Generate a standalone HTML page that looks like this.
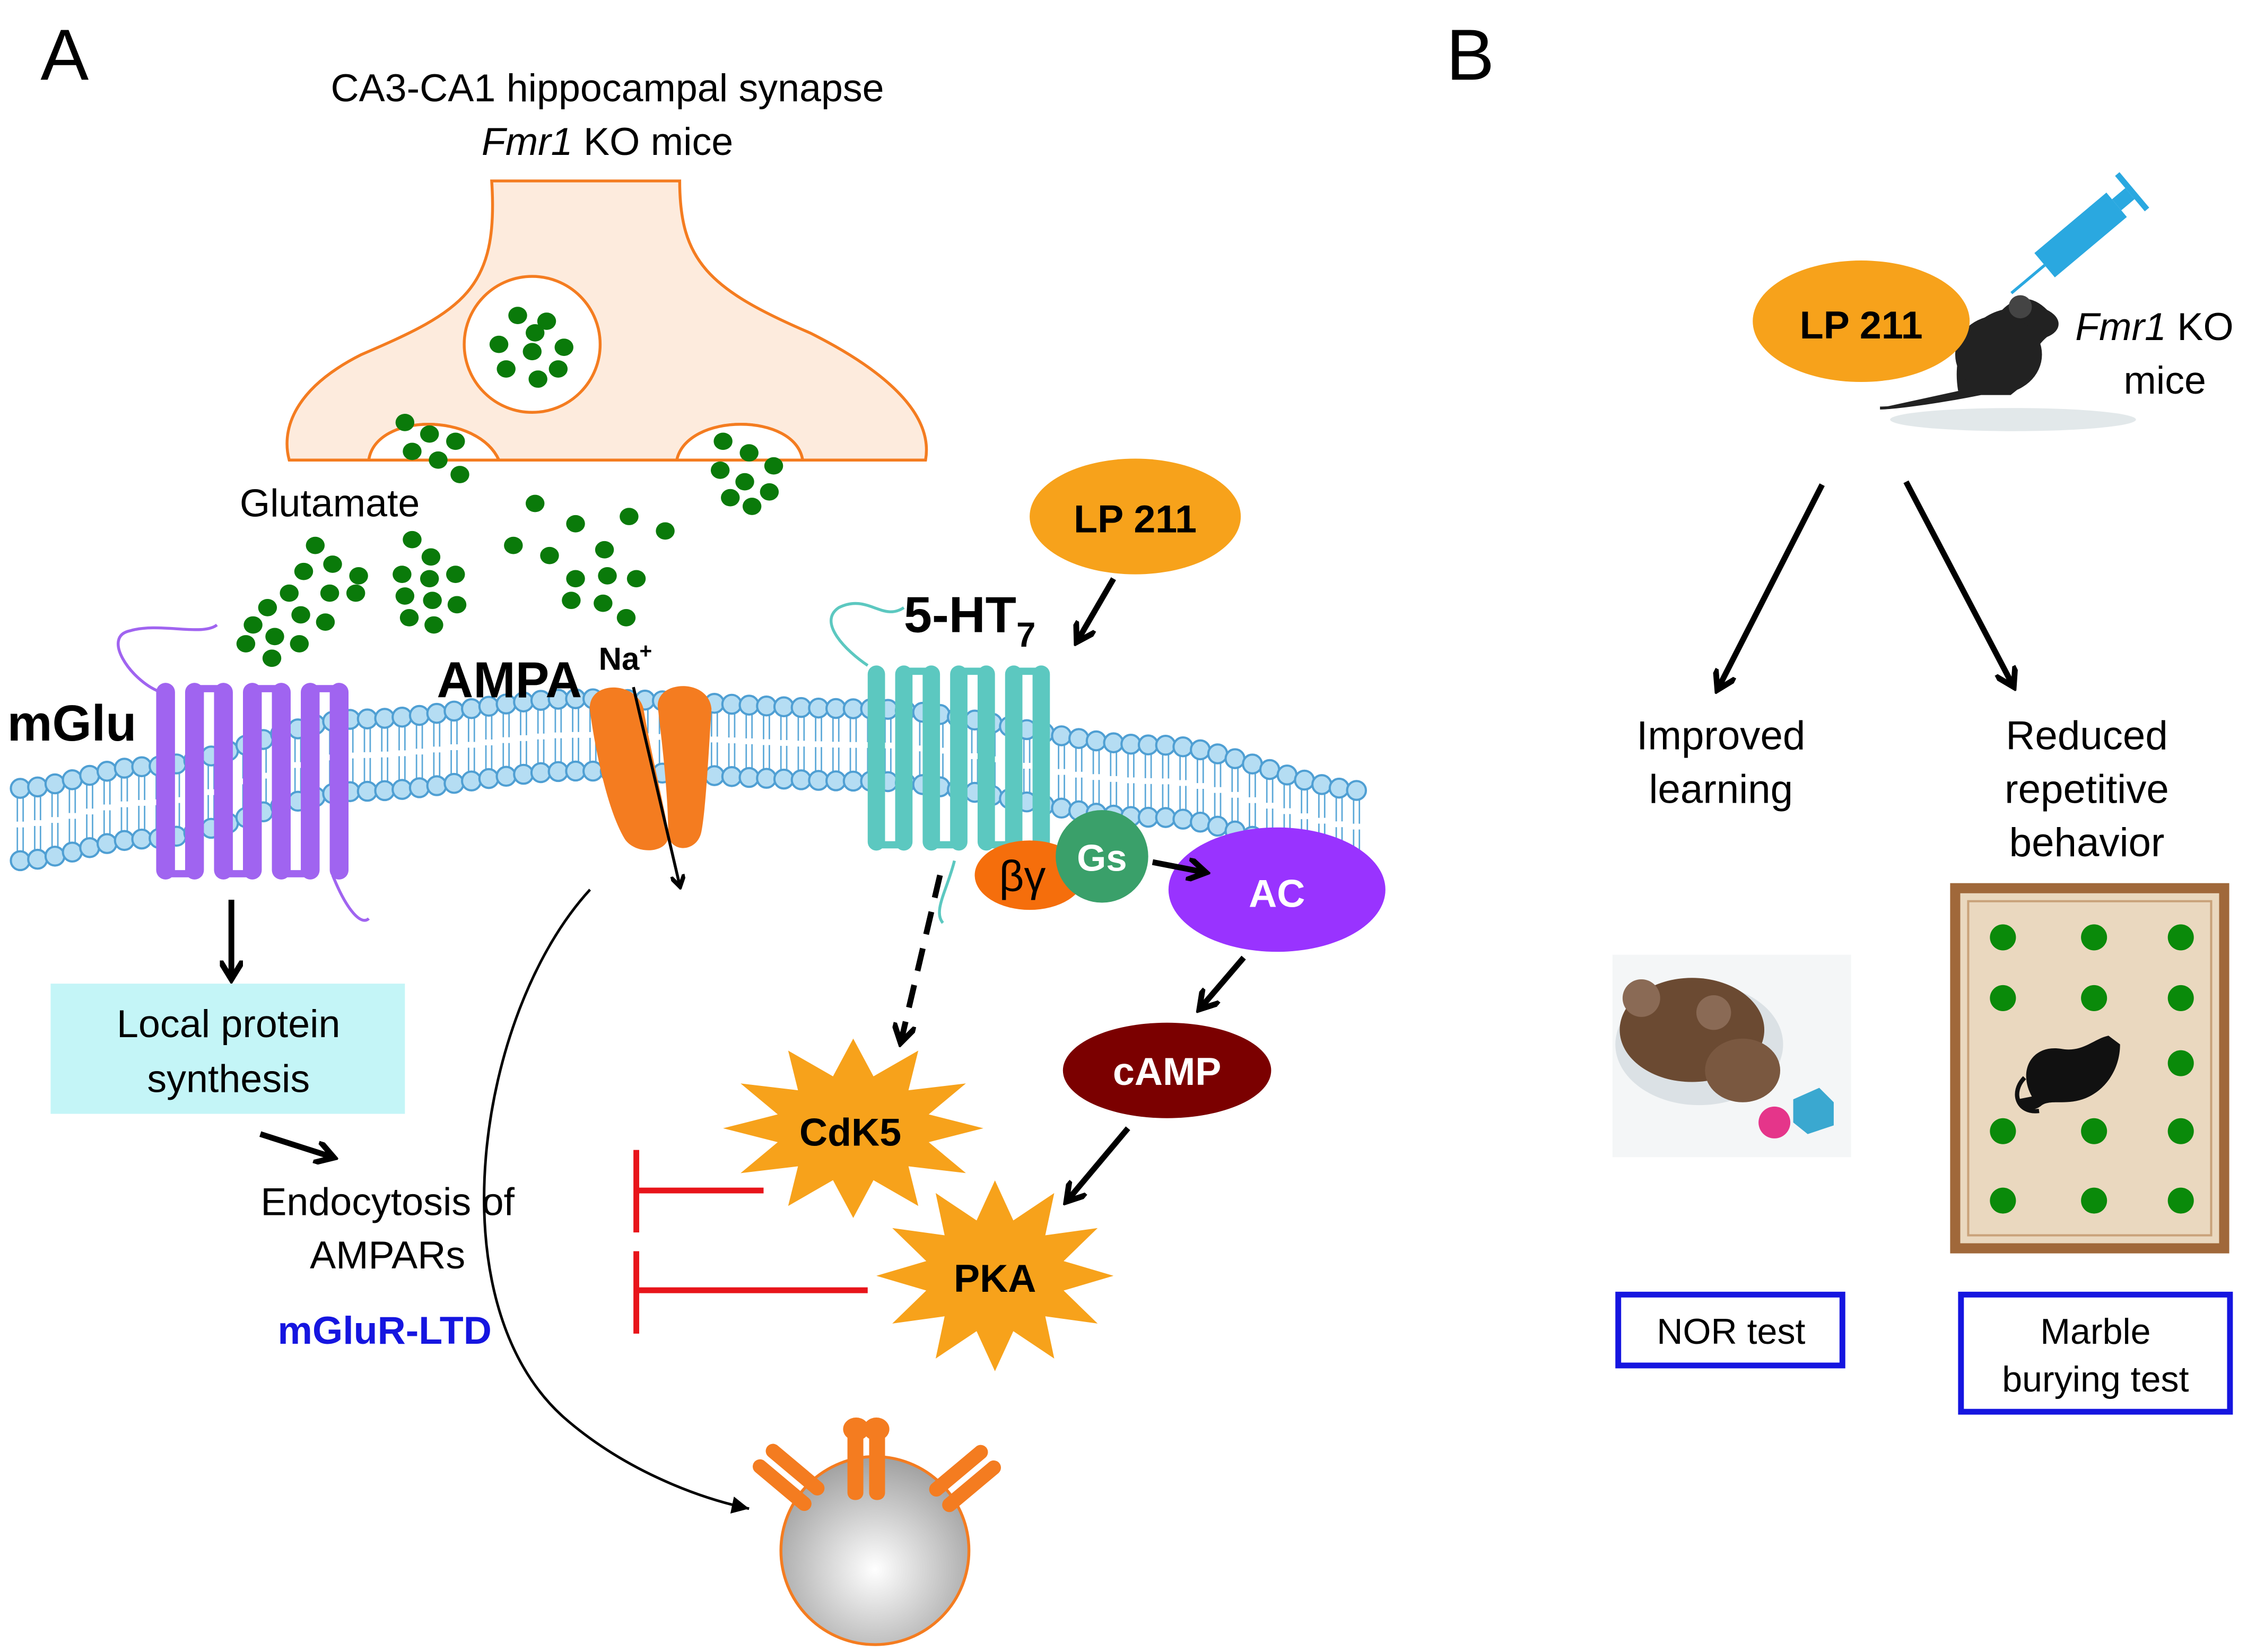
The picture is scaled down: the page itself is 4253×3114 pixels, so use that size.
<!DOCTYPE html>
<html><head><meta charset="utf-8"><style>
html,body{margin:0;padding:0;background:#fff;}
svg{display:block;}
text{font-family:"Liberation Sans",Arial,sans-serif;}
</style></head><body>
<svg id="s" xmlns="http://www.w3.org/2000/svg" width="4253" height="3114" viewBox="0 0 1560 1142">
<defs>
<marker id="ah" markerWidth="10" markerHeight="10" refX="7" refY="5" orient="auto" markerUnits="userSpaceOnUse"><path d="M0,0 L8,5 L0,10" fill="none" stroke="#000" stroke-width="3"/></marker>
<marker id="ah2" markerWidth="16" markerHeight="16" refX="12" refY="8" orient="auto" markerUnits="userSpaceOnUse"><path d="M0,0 L13,8 L0,16" fill="none" stroke="#000" stroke-width="4"/></marker>
<marker id="ahs" markerWidth="14" markerHeight="12" refX="12" refY="6" orient="auto" markerUnits="userSpaceOnUse"><path d="M0,0 L12,6 L0,12 Z" fill="#000"/></marker>
<radialGradient id="gv" cx="0.5" cy="0.6" r="0.6"><stop offset="0" stop-color="#ffffff"/><stop offset="1" stop-color="#a0a0a0"/></radialGradient>
</defs>

<text x="28" y="55" font-size="50">A</text>
<text x="1000" y="55" font-size="50">B</text>
<text x="420" y="70" font-size="27" text-anchor="middle">CA3-CA1 hippocampal synapse</text>
<text x="420" y="107" font-size="27" text-anchor="middle"><tspan font-style="italic">Fmr1</tspan> KO mice</text>

<!-- presynaptic terminal -->
<path d="M340,125 C345,200 320,215 250,245 C200,270 195,300 200,318 L255,318 C260,285 330,285 345,318 L468,318 C475,285 550,285 555,318 L640,318 C645,290 620,260 560,230 C490,200 470,180 470,125 Z" fill="#fdebdd" stroke="#f47c20" stroke-width="2"/>
<path d="M255,318 C260,285 330,285 345,318 L255,318Z" fill="#fff" stroke="#f47c20" stroke-width="2"/>
<path d="M468,318 C475,285 550,285 555,318Z" fill="#fff" stroke="#f47c20" stroke-width="2"/>
<circle cx="368" cy="238" r="47" fill="#fff" stroke="#f47c20" stroke-width="2"/>
<g id="dots" fill="#0a7a0a"></g>

<text x="228" y="357" font-size="27" text-anchor="middle">Glutamate</text>

<!-- membrane -->
<g id="mem"></g>

<!-- mGlu -->
<path d="M110,478 C90,470 70,440 90,436 C110,430 140,440 150,432" fill="none" stroke="#a064f0" stroke-width="2"/>
<path d="M230,605 C240,630 250,640 255,635" fill="none" stroke="#a064f0" stroke-width="2"/>
<g fill="#a064f0" id="mglu"></g>
<text x="5" y="512" font-size="35" font-weight="bold">mGlu</text>

<!-- AMPA -->
<path d="M408,492 C405,470 440,470 445,490 C450,520 460,560 462,575 C465,590 440,592 432,580 C420,560 412,520 408,492Z" fill="#f47c20"/>
<path d="M455,490 C452,470 490,468 492,490 C490,520 488,560 485,575 C482,590 462,590 462,575 C462,550 458,515 455,490Z" fill="#f47c20"/>
<text x="302" y="482" font-size="35" font-weight="bold">AMPA</text>
<text x="414" y="463" font-size="22" font-weight="bold">Na<tspan font-size="15" dy="-8">+</tspan></text>
<line x1="438" y1="475" x2="470" y2="612" stroke="#000" stroke-width="2" marker-end="url(#ah)"/>

<!-- 5HT7 -->
<path d="M600,460 C585,450 565,430 580,420 C600,410 610,430 625,420" fill="none" stroke="#5cc8c0" stroke-width="2"/>
<path d="M660,595 C655,615 645,630 652,638" fill="none" stroke="#5cc8c0" stroke-width="2"/>
<g fill="#5cc8c0" id="ht"></g>
<text x="625" y="437" font-size="35" font-weight="bold">5-HT<tspan font-size="24" dy="10">7</tspan></text>

<ellipse cx="785" cy="357" rx="73" ry="40" fill="#f7a21b"/>
<text x="785" y="368" font-size="27" font-weight="bold" text-anchor="middle">LP 211</text>
<line x1="770" y1="400" x2="745" y2="443" stroke="#000" stroke-width="4" marker-end="url(#ah2)"/>

<ellipse cx="712" cy="605" rx="38" ry="24" fill="#f56e0c"/>
<text x="707" y="616" font-size="30" text-anchor="middle">βγ</text>
<circle cx="762" cy="592" r="32" fill="#3aa06a"/>
<text x="762" y="602" font-size="26" font-weight="bold" fill="#fff" text-anchor="middle">Gs</text>
<ellipse cx="883" cy="615" rx="75" ry="43" fill="#9933ff"/>
<line x1="797" y1="596" x2="833" y2="603" stroke="#000" stroke-width="4" marker-end="url(#ah2)"/>
<text x="883" y="627" font-size="27" font-weight="bold" fill="#fff" text-anchor="middle">AC</text>
<line x1="860" y1="662" x2="830" y2="697" stroke="#000" stroke-width="4" marker-end="url(#ah2)"/>
<ellipse cx="807" cy="740" rx="72" ry="33" fill="#7b0000"/>
<text x="807" y="750" font-size="27" font-weight="bold" fill="#fff" text-anchor="middle">cAMP</text>
<line x1="780" y1="780" x2="738" y2="830" stroke="#000" stroke-width="4" marker-end="url(#ah2)"/>
<line x1="650" y1="605" x2="623" y2="720" stroke="#000" stroke-width="4" stroke-dasharray="16,10" marker-end="url(#ah2)"/>

<polygon id="cdk" fill="#f7a21b"/>
<text x="588" y="792" font-size="27" font-weight="bold" text-anchor="middle">CdK5</text>
<polygon id="pka" fill="#f7a21b"/>
<text x="688" y="893" font-size="27" font-weight="bold" text-anchor="middle">PKA</text>

<g stroke="#e8141a" stroke-width="4">
<line x1="528" y1="823" x2="440" y2="823"/><line x1="440" y1="795" x2="440" y2="852"/>
<line x1="600" y1="892" x2="440" y2="892"/><line x1="440" y1="865" x2="440" y2="922"/>
</g>

<rect x="35" y="680" width="245" height="90" fill="#c4f5f7"/>
<text x="158" y="717" font-size="27" text-anchor="middle">Local protein</text>
<text x="158" y="755" font-size="27" text-anchor="middle">synthesis</text>
<line x1="160" y1="622" x2="160" y2="676" stroke="#000" stroke-width="4" marker-end="url(#ah2)"/>
<line x1="180" y1="784" x2="230" y2="800" stroke="#000" stroke-width="4" marker-end="url(#ah2)"/>
<text x="268" y="840" font-size="27" text-anchor="middle">Endocytosis of</text>
<text x="268" y="877" font-size="27" text-anchor="middle">AMPARs</text>
<text x="266" y="929" font-size="27" font-weight="bold" fill="#1515e0" text-anchor="middle">mGluR-LTD</text>

<path d="M408,615 C330,700 300,900 390,980 C430,1015 480,1035 518,1043" fill="none" stroke="#000" stroke-width="1.8" marker-end="url(#ahs)"/>

<!-- endocytic vesicle -->
<circle cx="605" cy="1072" r="65" fill="url(#gv)" stroke="#f47c20" stroke-width="2"/>
<g fill="#f47c20">
<rect x="586" y="982" width="11" height="55" rx="5"/><rect x="601" y="982" width="11" height="55" rx="5"/>
<ellipse cx="592" cy="988" rx="9" ry="8"/><ellipse cx="606" cy="988" rx="9" ry="8"/>
<g transform="rotate(-50 560 1035)"><rect x="549" y="990" width="10" height="50" rx="5"/><rect x="563" y="990" width="10" height="50" rx="5"/></g>
<g transform="rotate(50 652 1035)"><rect x="640" y="990" width="10" height="50" rx="5"/><rect x="654" y="990" width="10" height="50" rx="5"/></g>
</g>

<!-- Panel B -->
<ellipse cx="1392" cy="290" rx="85" ry="8" fill="#cfd8dc" opacity="0.6"/>
<g transform="rotate(-40 1440 160)">
<rect x="1405" y="150" width="65" height="22" fill="#2aa8e0"/>
<rect x="1470" y="156" width="12" height="10" fill="#2aa8e0"/>
<rect x="1482" y="145" width="4" height="32" fill="#2aa8e0"/>
<line x1="1405" y1="161" x2="1375" y2="161" stroke="#2aa8e0" stroke-width="2"/>
</g>
<path d="M1355,270 C1350,240 1365,220 1385,215 C1395,205 1405,205 1415,215 C1425,220 1425,228 1415,232 C1405,240 1400,255 1395,268 L1390,272 L1370,272 C1340,278 1310,282 1300,282" fill="#222" stroke="#222" stroke-width="2"/>
<ellipse cx="1382" cy="245" rx="30" ry="27" fill="#222"/>
<circle cx="1397" cy="212" r="8" fill="#444"/>
<ellipse cx="1287" cy="222" rx="75" ry="42" fill="#f7a21b"/>
<text x="1287" y="234" font-size="27" font-weight="bold" text-anchor="middle">LP 211</text>
<text x="1435" y="235" font-size="27"><tspan font-style="italic">Fmr1</tspan> KO</text>
<text x="1497" y="272" font-size="27" text-anchor="middle">mice</text>

<line x1="1260" y1="335" x2="1188" y2="476" stroke="#000" stroke-width="4" marker-end="url(#ah2)"/>
<line x1="1318" y1="333" x2="1392" y2="474" stroke="#000" stroke-width="4" marker-end="url(#ah2)"/>
<text x="1190" y="518" font-size="28" text-anchor="middle">Improved</text>
<text x="1190" y="555" font-size="28" text-anchor="middle">learning</text>
<text x="1443" y="518" font-size="28" text-anchor="middle">Reduced</text>
<text x="1443" y="555" font-size="28" text-anchor="middle">repetitive</text>
<text x="1443" y="592" font-size="28" text-anchor="middle">behavior</text>

<!-- NOR image -->
<rect x="1115" y="660" width="165" height="140" fill="#f4f6f7"/>
<ellipse cx="1175" cy="722" rx="58" ry="42" fill="#c9d4d8" opacity="0.6"/>
<ellipse cx="1170" cy="712" rx="50" ry="36" fill="#6b4a32"/>
<ellipse cx="1205" cy="740" rx="26" ry="22" fill="#7a5840"/>
<circle cx="1135" cy="690" r="13" fill="#8a6a55"/>
<circle cx="1185" cy="700" r="12" fill="#8a6a55"/>
<circle cx="1227" cy="776" r="11" fill="#e5358a"/>
<polygon points="1240,760 1258,752 1268,762 1268,778 1250,784 1240,776" fill="#3aa8d0"/>

<!-- Marble box -->
<rect x="1352" y="614" width="186" height="249" fill="#ead8bf" stroke="#a0683a" stroke-width="7"/>
<rect x="1361" y="623" width="168" height="231" fill="none" stroke="#c9a27a" stroke-width="1.5"/>
<g fill="#0a8a0a">
<circle cx="1385" cy="648" r="9"/><circle cx="1448" cy="648" r="9"/><circle cx="1508" cy="648" r="9"/>
<circle cx="1385" cy="690" r="9"/><circle cx="1448" cy="690" r="9"/><circle cx="1508" cy="690" r="9"/>
<circle cx="1508" cy="735" r="9"/>
<circle cx="1385" cy="782" r="9"/><circle cx="1448" cy="782" r="9"/><circle cx="1508" cy="782" r="9"/>
<circle cx="1385" cy="830" r="9"/><circle cx="1448" cy="830" r="9"/><circle cx="1508" cy="830" r="9"/>
</g>
<path d="M1405,758 C1395,740 1405,722 1425,725 C1440,728 1448,718 1458,716 L1466,722 C1466,740 1455,755 1440,760 C1428,764 1418,760 1412,764 C1405,770 1398,766 1395,760" fill="#111"/>
<path d="M1400,745 C1390,755 1395,770 1410,768" fill="none" stroke="#111" stroke-width="3"/>

<rect x="1119" y="895" width="155" height="49" fill="none" stroke="#1515e0" stroke-width="4"/>
<text x="1197" y="929" font-size="25" text-anchor="middle">NOR test</text>
<rect x="1356" y="895" width="186" height="81" fill="none" stroke="#1515e0" stroke-width="4"/>
<text x="1449" y="929" font-size="25" text-anchor="middle">Marble</text>
<text x="1449" y="962" font-size="25" text-anchor="middle">burying test</text>
</svg>
<script>
const NS="http://www.w3.org/2000/svg";
function el(p,t,a){const e=document.createElementNS(NS,t);for(const k in a)e.setAttribute(k,a[k]);p.appendChild(e);return e;}
const mem=document.getElementById('mem');
const pts=[[12,570],[100,555],[250,522],[400,508],[600,515],[800,540],[950,572]];
function cy(x){for(let i=0;i<pts.length-1;i++){const[a,b]=pts[i],[c,d]=pts[i+1];if(x>=a&&x<=c){const t=(x-a)/(c-a);const s=t*t*(3-2*t);return b+(d-b)*s;}}return pts[pts.length-1][1];}
for(let x=14;x<=948;x+=12){const c=cy(x);
 el(mem,'line',{x1:x-2,y1:c-20,x2:x-2,y2:c-2,stroke:'#5ba8d8','stroke-width':1});
 el(mem,'line',{x1:x+2,y1:c-20,x2:x+2,y2:c-2,stroke:'#5ba8d8','stroke-width':1});
 el(mem,'line',{x1:x-2,y1:c+2,x2:x-2,y2:c+20,stroke:'#5ba8d8','stroke-width':1});
 el(mem,'line',{x1:x+2,y1:c+2,x2:x+2,y2:c+20,stroke:'#5ba8d8','stroke-width':1});
 el(mem,'circle',{cx:x,cy:c-25,r:6.5,fill:'#b5ddf3',stroke:'#4f9fd3','stroke-width':1.5});
 el(mem,'circle',{cx:x,cy:c+25,r:6.5,fill:'#b5ddf3',stroke:'#4f9fd3','stroke-width':1.5});
}
function bars(id,x0,n,w,gap,y1,y2){const g=document.getElementById(id);for(let i=0;i<n;i++){const x=x0+i*(w+gap);el(g,'rect',{x:x,y:y1,width:w,height:y2-y1,rx:w/2});}
 for(let i=0;i<n-1;i++){const x=x0+i*(w+gap)+w/2;const y=(i%2==0)?y2-4:y1+4;el(g,'path',{d:`M${x},${y} L${x+w+gap},${y}`,stroke:g.getAttribute('fill'),'stroke-width':5,fill:'none'});}}
bars('mglu',108,7,13,7,472,608);
bars('ht',600,7,12,7,460,588);
const dg=document.getElementById('dots');
const D=[[358,218],[378,222],[345,238],[368,243],[390,240],[350,255],[372,262],[386,255],[370,230],
[280,292],[297,300],[315,305],[285,312],[303,318],[318,328],[500,305],[518,313],[535,322],[498,325],[515,333],[532,340],[505,344],[520,350],
[370,348],[398,362],[435,357],[460,367],[380,384],[418,380],[398,400],[420,398],[440,400],[395,415],[417,417],[433,427],[355,377],
[218,377],[230,390],[248,398],[210,395],[228,410],[246,410],[200,410],[185,420],[208,425],[225,430],[175,432],[190,440],[207,445],[170,445],[188,455],
[285,373],[298,385],[278,397],[297,400],[315,397],[280,412],[299,415],[316,418],[283,427],[300,432]];
D.forEach(p=>el(dg,'ellipse',{cx:p[0],cy:p[1],rx:6.5,ry:6}));
function star(id,cx,cy,rx,ry,n,inner){let s='';for(let i=0;i<2*n;i++){const a=Math.PI*i/n-Math.PI/2;const r=(i%2==0)?1:inner;s+=(cx+Math.cos(a)*rx*r).toFixed(1)+','+(cy+Math.sin(a)*ry*r).toFixed(1)+' ';}document.getElementById(id).setAttribute('points',s);}
star('cdk',590,780,90,62,12,0.6);
star('pka',688,882,82,66,12,0.6);
</script>
</body></html>
